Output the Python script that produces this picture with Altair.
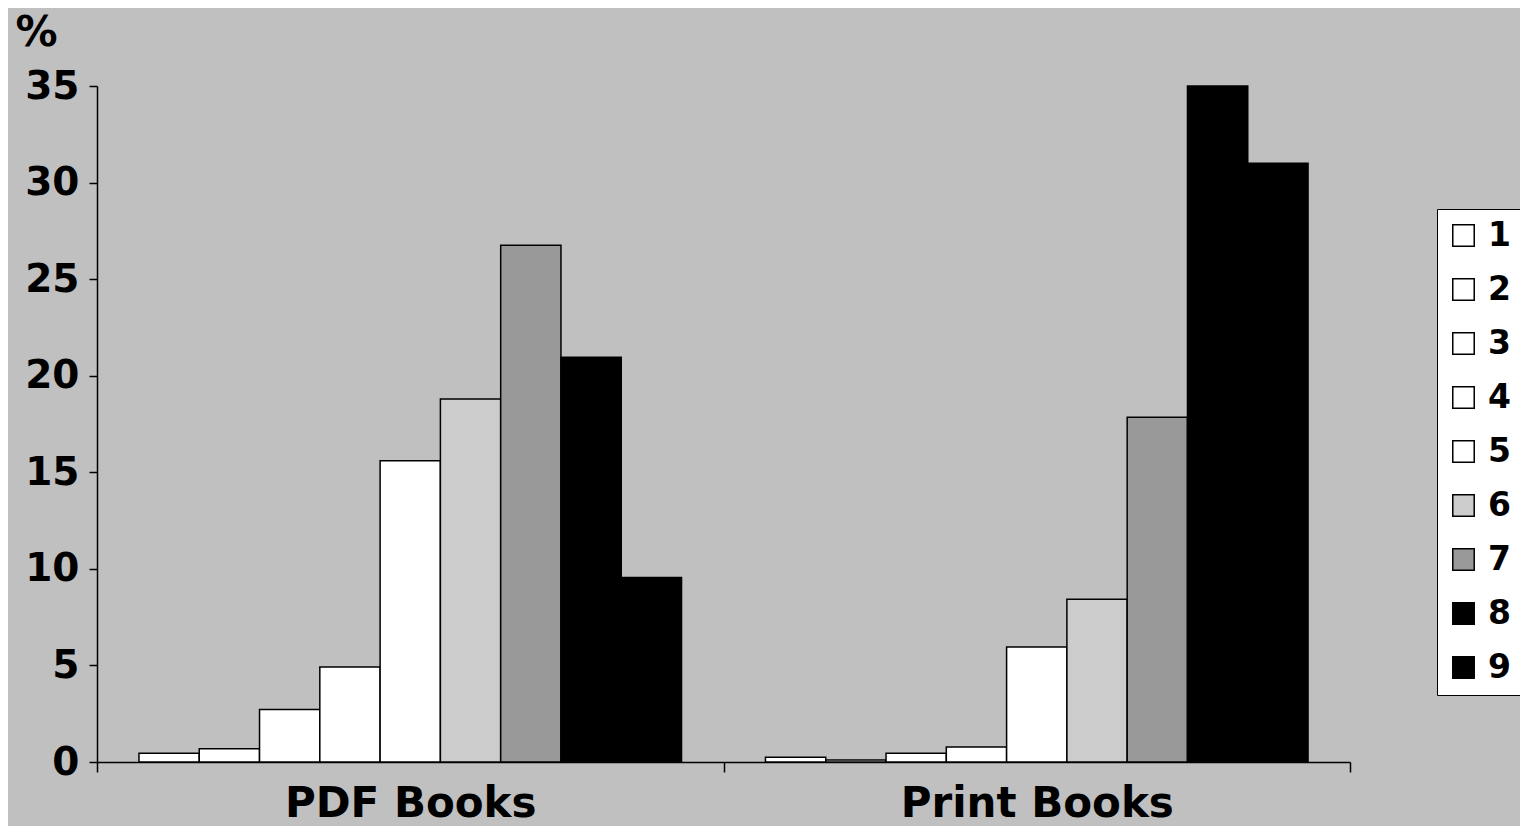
import altair as alt
import pandas as pd

groups = ["PDF Books", "Print Books"]
series = ["1", "2", "3", "4", "5", "6", "7", "8", "9"]
pdf_values = [0.45, 0.68, 2.72, 4.92, 15.6, 18.8, 26.75, 20.95, 9.55]
print_values = [0.25, 0.1, 0.45, 0.78, 5.95, 8.42, 17.85, 35.0, 31.0]
series_colors = ["#FFFFFF", "#FFFFFF", "#FFFFFF", "#FFFFFF", "#FFFFFF",
                 "#CCCCCC", "#999999", "#000000", "#000000"]

rows = []
for g, vals in zip(groups, [pdf_values, print_values]):
    for s, v in zip(series, vals):
        rows.append({"group": g, "series": s, "value": v})
df = pd.DataFrame(rows)

FONT = "DejaVu Sans"

chart = alt.Chart(df).mark_bar(stroke="black", strokeWidth=1.5).encode(
    x=alt.X("group:N", sort=groups, title=None,
            scale=alt.Scale(paddingInner=0, paddingOuter=0),
            axis=alt.Axis(labelAngle=0, tickBand="extent", domainColor="black",
                          domainWidth=1.5, tickColor="black", tickWidth=1.5,
                          tickSize=10, labelFont=FONT, labelFontWeight="bold",
                          labelFontSize=42, labelColor="black", labelPadding=11,
                          labelBaseline="top", labelLimit=0)),
    xOffset=alt.XOffset("series:N", sort=series,
                        scale=alt.Scale(paddingOuter=0.696, paddingInner=0)),
    y=alt.Y("value:Q", title="%",
            scale=alt.Scale(domain=[0, 35], nice=False),
            axis=alt.Axis(values=[0, 5, 10, 15, 20, 25, 30, 35], grid=False,
                          domainColor="black", domainWidth=1.5, tickColor="black",
                          tickWidth=1.5, tickSize=8, labelFont=FONT,
                          labelFontWeight="bold", labelFontSize=39,
                          labelColor="black", labelPadding=10,
                          titleAngle=0, titleAlign="left", titleBaseline="alphabetic",
                          titleX=-82, titleY=-41, titleFont=FONT,
                          titleFontWeight="bold", titleFontSize=42,
                          titleColor="black")),
    color=alt.Color("series:N", sort=series,
                    scale=alt.Scale(domain=series, range=series_colors),
                    legend=alt.Legend(title=None, orient="none", legendX=1340,
                                      legendY=123, symbolType="square",
                                      symbolSize=460, symbolStrokeColor="black",
                                      symbolStrokeWidth=1.5, labelFont=FONT,
                                      labelFontWeight="bold", labelFontSize=33,
                                      labelColor="black", rowPadding=20,
                                      padding=10, strokeColor="black",
                                      fillColor="#FFFFFF", labelOffset=8)),
).properties(
    width=1253, height=676,
    background="#C0C0C0",
    autosize=alt.AutoSizeParams(type="none"),
    padding={"left": 89, "top": 78, "right": 170, "bottom": 64},
).configure_view(stroke=None)

chart.save("out.html", embed_options={"renderer": "svg", "actions": False})
